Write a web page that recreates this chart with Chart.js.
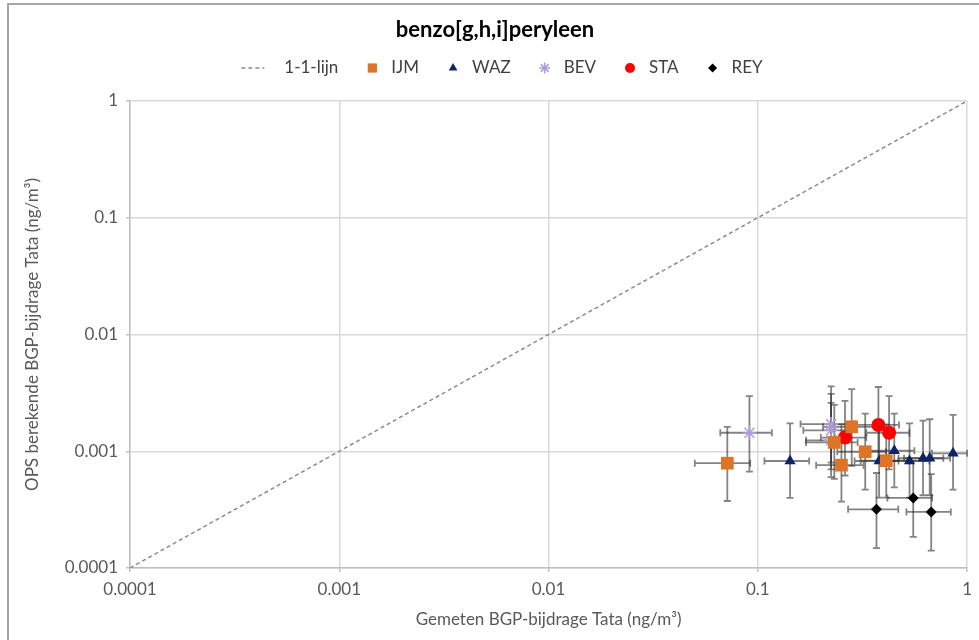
<!DOCTYPE html>
<html>
<head>
<meta charset="utf-8">
<script src="https://cdn.jsdelivr.net/npm/chart.js@4.4.0/dist/chart.umd.min.js"></script>
<style>
  html, body { margin: 0; padding: 0; background: #fff; }
  #wrap { width: 979px; height: 640px; position: relative; }
</style>
</head>
<body>
<div id="wrap"><canvas id="chart"></canvas></div>
<script>
// kolommen per punt: x, y, xLaag, xHoog, yLaag, yHoog  (ng/m3)
const ijmPoints = [
  [0.0715, 0.00079, 0.050, 0.092, 0.000375, 0.00162],
  [0.281, 0.00162, 0.205, 0.36, 0.00075, 0.0034],
  [0.232, 0.00119, 0.17, 0.30, 0.00058, 0.0025],
  [0.326, 0.00099, 0.24, 0.41, 0.00047, 0.0021],
  [0.251, 0.00076, 0.19, 0.32, 0.00037, 0.0017],
  [0.411, 0.00083, 0.31, 0.52, 0.0004, 0.0017]
];
const wazPoints = [
  [0.1426, 0.000825, 0.1076, 0.176, 0.000398, 0.00173],
  [0.449, 0.00101, 0.34, 0.56, 0.00049, 0.0021],
  [0.380, 0.000825, 0.29, 0.47, 0.0004, 0.0017],
  [0.531, 0.000825, 0.40, 0.66, 0.0004, 0.00173],
  [0.616, 0.000871, 0.47, 0.77, 0.00042, 0.00183],
  [0.663, 0.000871, 0.50, 0.83, 0.00042, 0.00188],
  [0.857, 0.00096, 0.68, 1.0, 0.00047, 0.00205]
];
const bevPoints = [
  [0.0912, 0.00144, 0.0662, 0.1167, 0.00067, 0.00297],
  [0.224, 0.00171, 0.16, 0.29, 0.0008, 0.0036],
  [0.224, 0.00151, 0.165, 0.28, 0.0007, 0.0031],
  [0.224, 0.00124, 0.17, 0.27, 0.0006, 0.0026]
];
const staPoints = [
  [0.377, 0.00168, 0.28, 0.473, 0.0008, 0.00355],
  [0.424, 0.00144, 0.33, 0.53, 0.0007, 0.00297],
  [0.261, 0.00131, 0.20, 0.33, 0.00062, 0.0027]
];
const reyPoints = [
  [0.369, 0.000318, 0.270, 0.469, 0.000148, 0.000651],
  [0.553, 0.000398, 0.416, 0.681, 0.000185, 0.000826],
  [0.674, 0.000302, 0.513, 0.836, 0.000141, 0.000638]
];
const lineX = [0.0001, 1];
const lineY = [0.0001, 1];
const tickValues = [0.0001, 0.001, 0.01, 0.1, 1];
const tickLabels = ["0.0001", "0.001", "0.01", "0.1", "1"];

const FONT = "Lato, 'Open Sans', sans-serif";

function toXY(points) {
  return points.map((p) => ({ x: p[0], y: p[1] }));
}

// foutbalken onder de markers
const errorBars = {
  id: "errorBars",
  beforeDatasetsDraw(chart) {
    const { ctx, scales: { x, y } } = chart;
    const cap = 3.5;
    ctx.save();
    ctx.strokeStyle = "rgba(50,50,50,0.6)";
    ctx.lineWidth = 1.8;
    chart.data.datasets.forEach((ds) => {
      if (!ds.errors) return;
      ds.errors.forEach((p) => {
        const px = x.getPixelForValue(p[0]);
        const py = y.getPixelForValue(p[1]);
        const x1 = x.getPixelForValue(p[2]);
        const x2 = x.getPixelForValue(p[3]);
        const y1 = y.getPixelForValue(p[4]);
        const y2 = y.getPixelForValue(p[5]);
        ctx.beginPath();
        ctx.moveTo(x1, py); ctx.lineTo(x2, py);
        ctx.moveTo(x1, py - cap); ctx.lineTo(x1, py + cap);
        ctx.moveTo(x2, py - cap); ctx.lineTo(x2, py + cap);
        ctx.moveTo(px, y1); ctx.lineTo(px, y2);
        ctx.moveTo(px - cap, y1); ctx.lineTo(px + cap, y1);
        ctx.moveTo(px - cap, y2); ctx.lineTo(px + cap, y2);
        ctx.stroke();
      });
    });
    ctx.restore();
  }
};

// rand + legenda
const frameAndLegend = {
  id: "frameAndLegend",
  beforeDraw(chart) {
    const ctx = chart.ctx;
    ctx.save();
    ctx.fillStyle = "#fff";
    ctx.fillRect(0, 0, chart.width, chart.height);
    ctx.strokeStyle = "#a6a6a6";
    ctx.lineWidth = 2;
    ctx.beginPath();
    ctx.moveTo(8, chart.height);
    ctx.lineTo(8, 4);
    ctx.lineTo(chart.width, 4);
    ctx.stroke();
    ctx.restore();
  },
  afterDraw(chart) {
    const ctx = chart.ctx;
    const legendY = 68;
    const centerX = 502;
    ctx.save();
    ctx.font = "17px " + FONT;
    ctx.textBaseline = "middle";
    const items = chart.data.datasets.map((ds) => {
      const tw = ctx.measureText(ds.label).width;
      const mw = ds.legendLine ? 43 : 19;
      return { ds, tw, mw };
    });
    const gap = 34;
    let total = items.reduce((s, it) => s + it.mw + it.tw, 0) + gap * (items.length - 1);
    let xPos = centerX - total / 2;
    items.forEach((it) => {
      const ds = it.ds;
      if (ds.legendLine) {
        ctx.strokeStyle = ds.borderColor;
        ctx.lineWidth = ds.borderWidth;
        ctx.setLineDash(ds.borderDash);
        ctx.beginPath();
        ctx.moveTo(xPos, legendY);
        ctx.lineTo(xPos + 23, legendY);
        ctx.stroke();
        ctx.setLineDash([]);
      } else {
        ctx.fillStyle = ds.backgroundColor;
        ctx.strokeStyle = ds.borderColor;
        Chart.helpers.drawPoint(ctx, {
          pointStyle: ds.pointStyle,
          radius: ds.legendRadius,
          borderWidth: ds.pointBorderWidth,
          rotation: 0
        }, xPos, legendY);
      }
      ctx.fillStyle = "#404040";
      ctx.fillText(ds.label, xPos + it.mw, legendY);
      xPos += it.mw + it.tw + gap;
    });
    ctx.restore();
  }
};

const axisFont = { family: FONT, size: 17 };

new Chart(document.getElementById("chart"), {
  type: "scatter",
  data: {
    datasets: [
      {
        label: "1-1-lijn",
        data: lineX.map((v, i) => ({ x: v, y: lineY[i] })),
        showLine: true,
        borderColor: "#8c8c8c",
        borderWidth: 1.5,
        borderDash: [4, 3],
        pointRadius: 0,
        legendLine: true
      },
      {
        label: "IJM",
        data: toXY(ijmPoints),
        errors: ijmPoints,
        pointStyle: "rect",
        pointRadius: 9,
        pointBorderWidth: 0,
        legendRadius: 6.5,
        backgroundColor: "#DD7427",
        borderColor: "#DD7427"
      },
      {
        label: "WAZ",
        data: toXY(wazPoints),
        errors: wazPoints,
        pointStyle: "triangle",
        pointRadius: 6.5,
        pointBorderWidth: 0,
        legendRadius: 5,
        backgroundColor: "#0E2466",
        borderColor: "#0E2466"
      },
      {
        label: "BEV",
        data: toXY(bevPoints),
        errors: bevPoints,
        pointStyle: "star",
        pointRadius: 7,
        pointBorderWidth: 1.5,
        legendRadius: 5.5,
        backgroundColor: "#B09BDA",
        borderColor: "#B09BDA"
      },
      {
        label: "STA",
        data: toXY(staPoints),
        errors: staPoints,
        pointStyle: "circle",
        pointRadius: 7,
        pointBorderWidth: 0,
        legendRadius: 5,
        backgroundColor: "#FF0000",
        borderColor: "#FF0000"
      },
      {
        label: "REY",
        data: toXY(reyPoints),
        errors: reyPoints,
        pointStyle: "rectRot",
        pointRadius: 5.5,
        pointBorderWidth: 0,
        legendRadius: 4.5,
        backgroundColor: "#000000",
        borderColor: "#000000"
      }
    ]
  },
  options: {
    responsive: true,
    maintainAspectRatio: false,
    animation: false,
    layout: { padding: { left: 20, right: 9, top: 0, bottom: 0 } },
    plugins: {
      legend: { display: false },
      tooltip: { enabled: false },
      title: {
        display: true,
        text: "benzo[g,h,i]peryleen",
        color: "#000",
        font: { family: FONT, size: 22, weight: "bold" },
        padding: { top: 16.8, bottom: 57.8 }
      }
    },
    scales: {
      x: {
        type: "logarithmic",
        min: 0.0001,
        max: 1,
        afterBuildTicks: (s) => { s.ticks = tickValues.map((v) => ({ value: v })); },
        afterFit: (s) => { s.height = 72; },
        ticks: {
          callback: (v, i) => tickLabels[i],
          autoSkip: false,
          maxRotation: 0,
          font: axisFont,
          color: "#595959",
          padding: 7
        },
        grid: { color: "#d9d9d9", lineWidth: 1.5, tickLength: 4, tickColor: "#bfbfbf" },
        border: { color: "#bfbfbf", width: 1.5 },
        title: {
          display: true,
          text: "Gemeten BGP-bijdrage Tata (ng/m³)",
          font: axisFont,
          color: "#595959",
          padding: { top: 0, bottom: 9.8 }
        }
      },
      y: {
        type: "logarithmic",
        min: 0.0001,
        max: 1,
        afterBuildTicks: (s) => { s.ticks = tickValues.map((v) => ({ value: v })); },
        afterFit: (s) => { s.width = 110; },
        ticks: {
          callback: (v, i) => tickLabels[i],
          autoSkip: false,
          font: axisFont,
          color: "#595959",
          padding: 8
        },
        grid: { color: "#d9d9d9", lineWidth: 1.5, tickLength: 4, tickColor: "#bfbfbf" },
        border: { color: "#bfbfbf", width: 1.5 },
        title: {
          display: true,
          text: "OPS berekende BGP-bijdrage Tata (ng/m³)",
          font: axisFont,
          color: "#595959",
          padding: { top: 2.8, bottom: 0 }
        }
      }
    }
  },
  plugins: [frameAndLegend, errorBars]
});
</script>
</body>
</html>
